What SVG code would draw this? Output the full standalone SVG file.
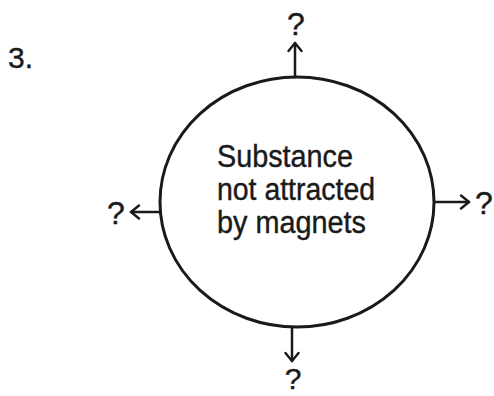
<svg xmlns="http://www.w3.org/2000/svg" width="494" height="396" viewBox="0 0 494 396">
<style>
.t{font-family:"Liberation Sans",Arial,sans-serif;fill:#1a1a1a;stroke:#1a1a1a;stroke-width:0.4}
.c{fill:none;stroke:#1a1a1a;stroke-width:3}
.a{fill:none;stroke:#1a1a1a;stroke-width:2.5;stroke-linecap:round;stroke-linejoin:round}
</style>
<defs>
<marker id="arr" viewBox="0 0 14 16" refX="12" refY="8" markerWidth="14" markerHeight="16" markerUnits="userSpaceOnUse" orient="auto">
<path d="M4,1.5 L12,8 L4,14.5" fill="none" stroke="#1a1a1a" stroke-width="2.4" stroke-linecap="round" stroke-linejoin="round"/>
</marker>
</defs>
<rect width="494" height="396" fill="#ffffff"/>
<text class="t" x="8" y="68" font-size="30">3.</text>
<g id="center">
<ellipse class="c" cx="297" cy="202" rx="137" ry="125"/>
<text class="t" font-size="31"><tspan x="217" y="167" textLength="136" lengthAdjust="spacingAndGlyphs">Substance</tspan><tspan x="217" y="200" textLength="158" lengthAdjust="spacingAndGlyphs">not attracted</tspan><tspan x="217" y="233" textLength="149" lengthAdjust="spacingAndGlyphs">by magnets</tspan></text>
</g>
<g id="connectors">
<line class="a" x1="295" y1="77" x2="295" y2="43" marker-end="url(#arr)"/>
<line class="a" x1="160" y1="212" x2="131" y2="212" marker-end="url(#arr)"/>
<line class="a" x1="435" y1="202" x2="469" y2="202" marker-end="url(#arr)"/>
<line class="a" x1="292" y1="327" x2="292" y2="361" marker-end="url(#arr)"/>
</g>
<g id="q-top"><text class="t" x="296" y="35" font-size="32" text-anchor="middle">?</text></g>
<g id="q-left"><text class="t" x="116" y="224" font-size="32" text-anchor="middle">?</text></g>
<g id="q-right"><text class="t" x="484" y="214" font-size="32" text-anchor="middle">?</text></g>
<g id="q-bottom"><text class="t" x="293" y="389" font-size="30" text-anchor="middle">?</text></g>
</svg>
